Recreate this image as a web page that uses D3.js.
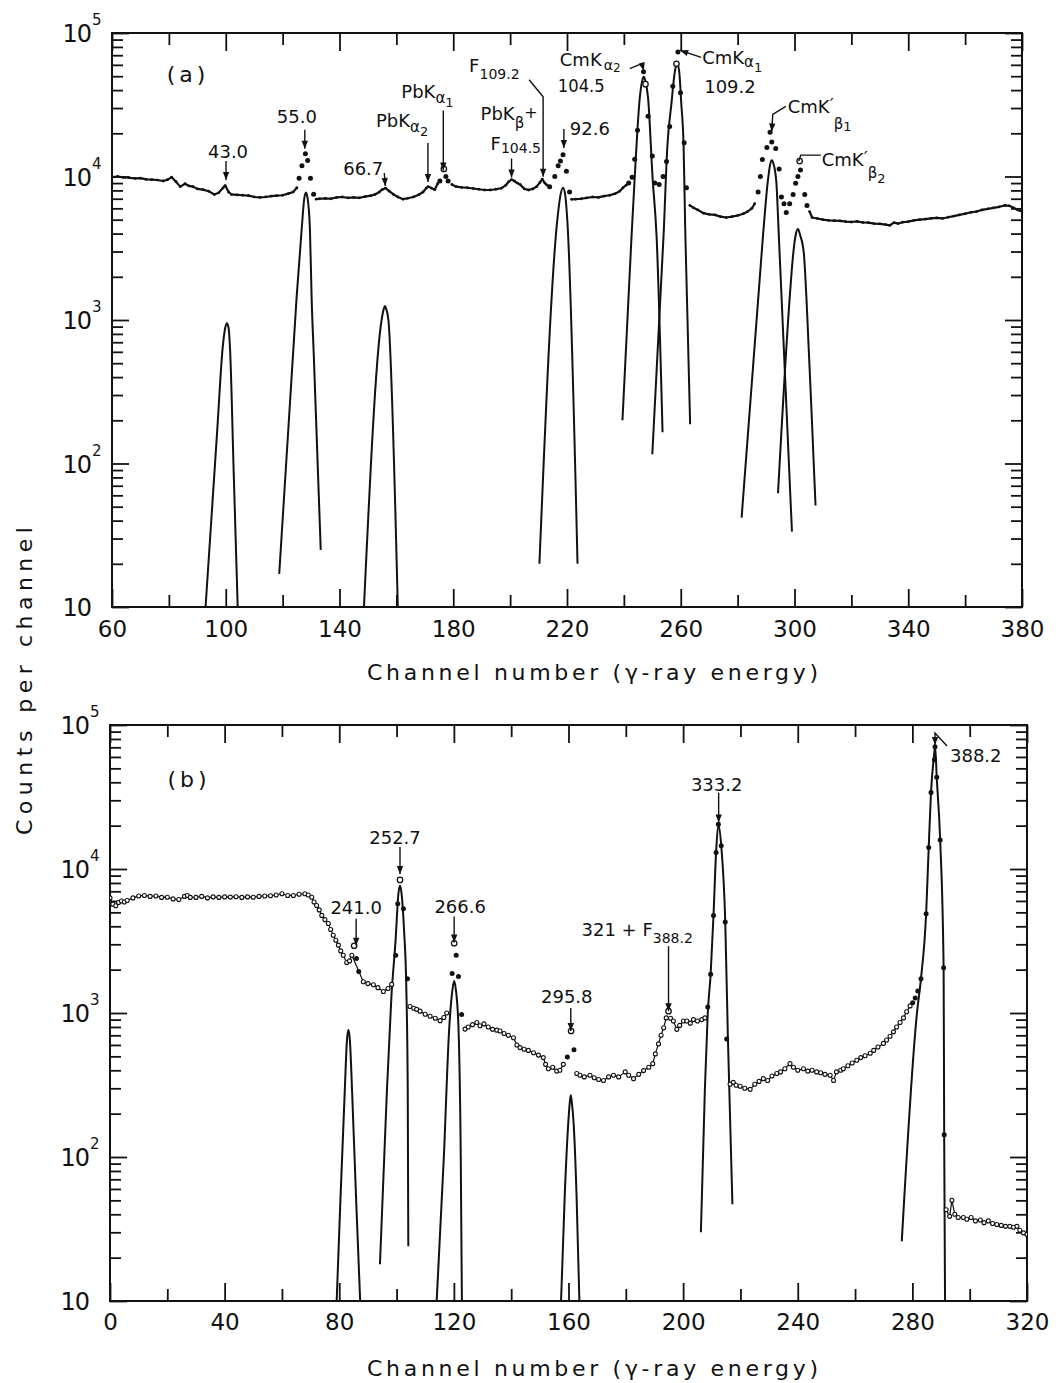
<!DOCTYPE html>
<html><head><meta charset="utf-8">
<script src="https://cdn.jsdelivr.net/npm/d3@7"></script>
<style>
body{margin:0;background:#fff}
text{font-family:"DejaVu Sans",Arial,sans-serif;fill:#111}
</style>
</head><body>
<script>
// ---------------- DATA ----------------
const xTicksA = [60,100,140,180,220,260,300,340,380];
const xMinorA = [80,120,160,200,240,280,320,360];
const xTicksB = [0,40,80,120,160,200,240,280,320];
const xMinorB = [20,60,100,140,180,220,260,300];
const yDecades = [10,100,1000,10000,100000];
const yExponents = ["","2","3","4","5"];
const yMinorMult = [2,3,4,5,6,7,8,9];

// panel (a): continuum (channel, counts per channel)
const bgA = [[60,9900],[62,10000],[64,9850],[66,9800],[68,9700],[70,9750],[72,9550],[74,9500],[76,9450],[78,9300],[79.5,9500],[81,9900],[82.5,9200],[84,8500],[85.7,8900],[87,8600],[88.5,8500],[90,8200],[92,8100],[94,7900],[96,7500],[97.5,7700],[99,8300],[99.8,8650],[101,7800],[102,7500],[104,7450],[106,7400],[108,7350],[110,7200],[112,7150],[114,7200],[116,7300],[118,7350],[120,7400],[122,7600],[123.7,7800],[125,8350],
[131.8,6950],[133,7000],[135,7050],[137,7000],[139,7150],[141,7200],[143,7100],[145,7150],[147,7100],[149,7250],[151,7350],[152.5,7500],[154,7800],[155,8100],[156.2,8300],[157.5,7900],[159,7500],[160.5,7200],[162.4,6950],[164,7050],[166,7200],[168,7500],[169.4,7800],[170.5,8300],[171.2,8500],[172.3,8300],[173.5,8100],[174.5,8900],
[179.5,8800],[181,8500],[183,8400],[185,8350],[187,8250],[189,8150],[191,8050],[193,8050],[195,8150],[197,8300],[198.5,8700],[199.5,9200],[200.5,9500],[201.5,9300],[202.5,9000],[203.5,8800],[205,8200],[206.5,8050],[208,8200],[209.3,8500],[210.5,9100],[211.3,9600],[212.2,9000],[213,8700],
[221.6,6930],[223,6950],[225,7000],[227,7100],[229,7200],[231,7150],[233,7300],[235,7400],[237,7600],[238.5,7900],[239.7,8350],[240.8,8700],
[263.2,6290],[264.5,6050],[266,5850],[268,5550],[270,5450],[272,5400],[274,5250],[276,5180],[278,5250],[280,5350],[282,5500],[283.5,5700],[285,6000],[286,6460],
[305.3,5700],[306.2,5180],[308,5100],[310,5000],[312,4950],[314,4920],[316,4900],[318,4850],[320,4820],[322,4870],[324,4780],[326,4770],[328,4700],[330,4680],[332,4620],[333.5,4570],[335,4770],[336.5,4700],[338,4800],[340,4850],[342,4950],[344,5000],[346,5050],[348,5100],[350,5150],[352,5100],[354,5200],[356,5300],[358,5400],[360,5500],[362,5630],[364,5700],[366,5850],[368,5950],[370,6050],[372,6150],[374,6290],[375.5,6250],[377,6050],[378.5,5850],[380,5700]];

// panel (a): peak data points
const peakDotsA = [[125.8,9740],[126.8,11860],[128,14400],[128.8,12950],[129.8,9740],[130.9,7520],
[175.3,9300],[177.4,10000],[178.2,9300],
[213.9,8480],[215.7,10000],[216.9,11860],[217.7,12800],[218.6,14150],[219.8,10900],[220.9,7810],
[241.7,9000],[242.9,9900],[243.8,13200],[244.8,21000],[246.9,53600],[248.5,26300],[250,13900],[250.9,9000],
[252.4,8800],[253.8,10000],[255,12700],[256.1,22300],[257.2,42500],[259,73700],[259.9,38300],[261.2,17200],[262,8350],
[287.2,7810],[288,10000],[288.7,13150],[290.3,15900],[291.4,20300],[292,17400],[293.4,15700],[294.6,11300],[295.4,7200],[296.3,6460],[297.1,5620],
[298.3,6460],[299.5,7500],[300.4,8980],[301.2,10000],[302.1,11100],[303.6,7500],[304.4,6290]];
const openDotsA = [[176.7,11300],[247.6,44000],[258.5,61000],[301.8,12800]];

// panel (a): fitted components
const fitA100 = [[92.9,10],[97,170],[98.9,635],[99.8,880],[100.4,950],[101,880],[101.5,635],[102.8,86],[104.2,10]];
const fitA128 = [[118.8,17],[124.9,1420],[126.7,4300],[127.6,7000],[128.2,7740],[128.8,7000],[129.6,4300],[130.2,1420],[131,540],[133.4,25]];
const fitA156 = [[148.6,10],[154.8,1000],[155.6,1200],[156,1250],[156.4,1200],[157.2,1000],[160.5,10]];
const fitA219 = [[210.3,20],[216.6,5000],[217.8,7600],[218.6,8350],[219.3,7600],[220.1,5000],[223.7,20]];
const fitA247 = [[239.5,200],[242.7,3840],[243.8,9750],[245.6,35500],[246.4,46000],[247,49600],[247.6,46000],[248.5,35500],[250.1,9750],[251.5,3840],[253.6,165]];
const fitA259 = [[250,116],[254,4050],[255.3,16300],[256.7,31900],[258,55000],[258.7,61000],[259.4,55000],[260.2,31900],[261,16300],[261.6,4050],[263.3,188]];
const fitA292 = [[281.4,42],[288.9,3830],[290.6,9200],[291.5,12300],[292,13000],[292.6,12300],[293.6,9200],[294.5,3830],[299.1,33.5]];
const fitA301 = [[294.2,62],[298.3,1420],[299.4,2700],[300.4,3900],[301.2,4300],[302,3900],[303.3,2900],[304.2,1420],[306.8,96],[307.4,51]];

// panel (b): continuum
const bgB = [[0,6300],[1,5700],[2,5550],[3,5850],[4,6000],[5,5900],[6,6050],[8,6300],[10,6500],[12,6550],[14,6450],[16,6500],[18,6350],[20,6370],[22,6200],[24,6140],[26,6450],[27,6550],[28,6350],[30,6350],[32,6450],[34,6300],[36,6400],[38,6350],[40,6400],[42,6380],[44,6420],[46,6350],[48,6400],[50,6370],[52,6450],[54,6500],[56,6520],[58,6600],[60,6730],[62,6550],[64,6550],[66,6680],[68,6730],[69.2,6600],[70.4,6370],[71.2,5900],[72.1,5580],[73,5200],[73.9,4760],[75,4450],[76.2,4180],[77,3800],[77.9,3470],[78.8,3200],[79.7,2960],[80.5,2700],[81.4,2520],[82.6,2240],[83.6,2300],[84.4,2520],
[88.4,1650],[90,1600],[91.9,1570],[93.5,1500],[95.4,1410],[97,1480],[98.3,1580],
[104.7,1110],[106,1080],[107,1060],[108.2,1030],[110,980],[111.7,950],[113.5,920],[115.2,885],[116.5,930],[117.5,1000],
[123.9,773],[125,800],[126.5,830],[128,860],[129.1,815],[130.5,840],[132,800],[133.5,770],[135,760],[136.1,750],[137.5,720],[139,700],[140.8,673],[142,600],[143.1,575],[144.5,560],[146,550],[147.8,530],[149.5,510],[151.2,490],[152,440],[153,410],[154.5,420],[155.9,395],[157,400],[158.2,440],
[162.9,380],[164,370],[165.5,360],[167.5,370],[169,355],[170.5,345],[172.2,340],[174,360],[175.7,370],[177.5,360],[179.8,390],[181,370],[182.7,350],[184.5,375],[186.2,398],[188,420],[189.4,445],[190.3,520],[191.4,610],[192.3,700],[193.2,790],[194.1,925],
[195.6,920],[196.6,880],[197.8,770],[198.8,820],[200.1,880],[201.3,880],[202.5,850],[203.6,900],[205,880],[206.5,900],[207.6,925],
[216.4,320],[217.5,330],[218.5,315],[219.9,310],[221.5,300],[223.4,295],[225,320],[226.5,335],[228,350],[229.5,340],[231,365],[232.7,380],[234,390],[235.5,410],[237.3,445],[238.5,420],[240,400],[242,410],[243.5,395],[245,400],[246.6,390],[248,385],[249.5,375],[251.3,370],[252.5,340],[253.5,390],[255,400],[255.9,410],[257.5,430],[259,450],[260.6,470],[262,490],[263.5,505],[265.3,525],[266.5,550],[268,580],[269.9,615],[271,650],[272.2,690],[273.4,740],[274.5,800],[275.7,860],[276.9,925],[278,1020],[279.2,1120],
[291.8,43],[293,38.7],[293.8,50],[294.8,40],[296,38],[297.8,38],[299,37],[300.5,38],[302,36],[303.7,36.5],[305,35],[306.5,36],[308,34.5],[309.5,34],[311,33.5],[312.5,33],[314,33],[315.3,32.5],[316.5,33],[317.5,31],[318.8,29.7],[320,29]];

// panel (b): peak data points
const peakDotsB = [[86,2390],[86.8,1940],
[99.7,2520],[100.4,5740],[102.4,5300],[103.8,1730],
[119.4,1880],[120.8,2520],[121.6,1790],[122.7,975],
[159.6,495],[161.9,555],
[208.6,1100],[209.6,1860],[210.6,4760],[211.5,13000],[212.3,20450],[213.3,14500],[214.7,4290],[215.2,660],
[280.1,1180],[281,1270],[281.9,1420],[283,1730],[284.8,4890],[285.7,14100],[286.5,34000],[287.7,57400],[287.9,70500],[288.5,43300],[289.7,15900],[290.9,2060],[291.1,143]];
const openDotsB = [[85.2,2930],[101.2,8400],[120.1,3050],[160.9,750],[194.9,1030]];

// panel (b): fitted components
const fitB83 = [[79.1,10],[80.4,50],[81.9,280],[82.7,650],[83.2,764],[83.7,650],[84.5,280],[85.9,50],[87.3,10]];
const fitB101 = [[94.2,18],[96.5,250],[98.2,1300],[99.7,3300],[100.6,6600],[101.2,7670],[101.8,6600],[102.6,3800],[103.4,1500],[103.9,300],[104.1,24]];
const fitB120 = [[114,10],[116.5,100],[118.4,800],[119.5,1450],[120.1,1665],[120.7,1450],[121.6,800],[122.4,100],[122.8,10]];
const fitB161 = [[157.4,10],[158.7,55],[159.9,170],[160.5,245],[160.8,268],[161.1,245],[161.8,170],[162.8,55],[163.8,10]];
const fitB212 = [[206.2,30],[207.6,300],[208.6,1000],[209.6,1860],[210.6,4760],[211.5,13000],[212.3,20450],[213.3,14500],[214.7,4290],[215.6,700],[217.2,47]];
const fitB288 = [[276.3,26],[281.6,1000],[283,1730],[284.8,4890],[285.7,14100],[286.5,34000],[287.5,60000],[287.95,70800],[288.5,43300],[289.7,15900],[290.9,2060],[291.1,143],[291.4,10]];

const fitsA = [fitA100,fitA128,fitA156,fitA219,fitA247,fitA259,fitA292,fitA301];
const fitsB = [fitB83,fitB101,fitB120,fitB161,fitB212,fitB288];

// ---------------- DRAW ----------------
const W = 1059, H = 1383;
const FONT = '"DejaVu Sans",Arial,sans-serif';
const svg = d3.select("body").append("svg").attr("width", W).attr("height", H);
svg.append("rect").attr("width", W).attr("height", H).attr("fill", "#fff");
const INK = "#111";

function richText(g, x, y, segs, anchor, len) {
  const t = g.append("text").attr("x", x).attr("y", y).attr("text-anchor", anchor || "start");
  if (len) t.attr("textLength", len).attr("lengthAdjust", "spacingAndGlyphs");
  let prev = 0;
  segs.forEach(s => {
    const ts = t.append("tspan").attr("font-size", s[1]).attr("dy", s[2] - prev).text(s[0]);
    if (s[3]) ts.attr("dx", s[3]);
    prev = s[2];
  });
  return t;
}

function arrowHead(g, x, y, angle) {
  g.append("path").attr("d", "M-3.2,-8 L3.2,-8 L0,0 Z")
    .attr("transform", `translate(${x},${y}) rotate(${angle})`)
    .attr("fill", INK);
}

function drawPanel(p) {
  const x = d3.scaleLinear().domain(p.xDomain).range([p.left, p.right]);
  const y = d3.scaleLog().domain([10, 1e5]).range([p.bottom, p.top]);
  const g = svg.append("g");
  const clipId = "clip" + p.name;
  svg.append("clipPath").attr("id", clipId).append("rect")
    .attr("x", p.left).attr("y", p.top).attr("width", p.right - p.left).attr("height", p.bottom - p.top);

  const styleAxis = sel => {
    sel.select(".domain").remove();
    sel.selectAll(".tick line").attr("stroke", INK).attr("stroke-width", 1.8);
  };
  const minorY = [];
  yDecades.slice(0, 4).forEach(d => yMinorMult.forEach(m => minorY.push(d * m)));

  g.append("g").attr("transform", `translate(0,${p.bottom})`)
    .call(d3.axisBottom(x).tickValues(p.xTicks).tickSize(-18).tickSizeOuter(0).tickPadding(p.tickPad).tickFormat(d3.format("d")))
    .call(styleAxis)
    .call(s => s.selectAll("text").attr("font-size", 23).attr("font-family", FONT).attr("fill", INK));
  g.append("g").attr("transform", `translate(0,${p.bottom})`)
    .call(d3.axisBottom(x).tickValues(p.xMinor).tickSize(-12).tickSizeOuter(0).tickFormat(""))
    .call(styleAxis);
  g.append("g").attr("transform", `translate(0,${p.top})`)
    .call(d3.axisTop(x).tickValues(p.xTicks).tickSize(-18).tickSizeOuter(0).tickFormat(""))
    .call(styleAxis);
  g.append("g").attr("transform", `translate(0,${p.top})`)
    .call(d3.axisTop(x).tickValues(p.xMinor).tickSize(-12).tickSizeOuter(0).tickFormat(""))
    .call(styleAxis);
  [[p.left, d3.axisLeft], [p.right, d3.axisRight]].forEach(([xp, ax]) => {
    g.append("g").attr("transform", `translate(${xp},0)`)
      .call(ax(y).tickValues(yDecades).tickSize(-17).tickSizeOuter(0).tickFormat(""))
      .call(styleAxis);
    g.append("g").attr("transform", `translate(${xp},0)`)
      .call(ax(y).tickValues(minorY).tickSize(-11).tickSizeOuter(0).tickFormat(""))
      .call(styleAxis);
  });
  g.append("rect").attr("x", p.left).attr("y", p.top).attr("width", p.right - p.left).attr("height", p.bottom - p.top)
    .attr("fill", "none").attr("stroke", INK).attr("stroke-width", 2);

  yDecades.forEach((d, i) => {
    const yy = y(d);
    g.append("text").attr("x", p.left - 21).attr("y", yy + 9).attr("text-anchor", "end")
      .attr("font-size", 24).attr("letter-spacing", -1).text("10");
    if (yExponents[i]) {
      g.append("text").attr("x", p.left - 20).attr("y", yy - 8).attr("font-size", 15).text(yExponents[i]);
    }
  });

  g.append("text").attr("x", 367).attr("y", p.titleBase).attr("font-size", 22)
    .attr("textLength", 451).attr("lengthAdjust", "spacing")
    .text("Channel number  (γ-ray energy)");
  g.append("text").attr("x", p.labelPos[0]).attr("y", p.labelPos[1]).attr("text-anchor", "middle")
    .attr("font-size", 22).attr("letter-spacing", 4).text(p.label);

  const plot = g.append("g").attr("clip-path", `url(#${clipId})`);
  const fitLine = d3.line().x(d => x(d[0])).y(d => y(d[1])).curve(d3.curveMonotoneX);
  p.fits.forEach(f => plot.append("path").attr("d", fitLine(f)).attr("fill", "none")
    .attr("stroke", INK).attr("stroke-width", 2).attr("stroke-linejoin", "round"));

  const bgSeq = [];
  p.bg.forEach((d, i) => {
    if (i > 0 && d[0] - p.bg[i - 1][0] > 4.5) bgSeq.push(null);
    bgSeq.push(d);
  });
  const bgLine = d3.line().defined(d => d !== null).x(d => x(d[0])).y(d => y(d[1]));
  plot.append("path").attr("d", bgLine(bgSeq)).attr("fill", "none").attr("stroke", INK)
    .attr("stroke-width", p.bgWidth).attr("stroke-linejoin", "round");
  plot.selectAll(null).data(p.bg).enter().append("circle")
    .attr("cx", d => x(d[0])).attr("cy", d => y(d[1])).attr("r", p.bgR)
    .attr("fill", p.bgOpen ? "#fff" : INK).attr("stroke", INK).attr("stroke-width", p.bgOpen ? 1.1 : 0);
  plot.selectAll(null).data(p.dots).enter().append("circle")
    .attr("cx", d => x(d[0])).attr("cy", d => y(d[1])).attr("r", 2.5).attr("fill", INK);
  plot.selectAll(null).data(p.open).enter().append("circle")
    .attr("cx", d => x(d[0])).attr("cy", d => y(d[1])).attr("r", 2.7).attr("fill", "#fff")
    .attr("stroke", INK).attr("stroke-width", 1.3);

  const ann = g.append("g");
  p.notes.forEach(n => {
    const tx = x(n.tip[0]), ty = y(n.tip[1]);
    if (n.leader) {
      const pts = n.leader.map(q => [tx + q[0], ty + q[1]]);
      ann.append("path").attr("d", d3.line()(pts)).attr("fill", "none").attr("stroke", INK).attr("stroke-width", 1.4);
      if (n.arrow !== false) {
        const a = pts[pts.length - 2], b = pts[pts.length - 1];
        const ang = Math.atan2(b[1] - a[1], b[0] - a[0]) * 180 / Math.PI - 90;
        arrowHead(ann, b[0], b[1], ang);
      }
    }
    n.texts.forEach(t => richText(ann, tx + t.dx, ty + t.dy, t.segs, t.anchor, t.len));
  });
}

const S = 18;
const notesA = [
  {tip:[100.1,9470], leader:[[0,-19],[0,0]], texts:[{dx:2,dy:-22,anchor:"middle",segs:[["43.0",S,0]]}]},
  {tip:[127.8,15600], leader:[[0,-19],[0,0]], texts:[{dx:-8,dy:-26,anchor:"middle",segs:[["55.0",S,0]]}]},
  {tip:[156.1,8580], leader:[[-1,-13],[0,0]], texts:[{dx:-2,dy:-11,anchor:"end",segs:[["66.7",S,0]]}]},
  {tip:[171.1,9140], leader:[[0,-39],[0,0]], texts:[{dx:-52,dy:-55,segs:[["PbK",S,0],["α",15,5],["2",13,9]]}]},
  {tip:[176.5,11000], leader:[[0,-60],[0,0]], texts:[{dx:-42,dy:-73,segs:[["PbK",S,0],["α",15,5],["1",13,9]]}]},
  {tip:[211.6,9950], leader:[[-14,-97],[0,-80],[0,0]], texts:[{dx:-74,dy:-105,segs:[["F",S,0],["109.2",14,7]]}]},
  {tip:[200.5,9840], leader:[[0,-19],[0,0]], texts:[
      {dx:-21,dy:-28,segs:[["F",S,0],["104.5",14,3]]},
      {dx:-31,dy:-58,segs:[["PbK",S,0],["β",15,8],["+",16,-2]]}]},
  {tip:[218.9,15800], leader:[[0,-19],[0,0]], texts:[{dx:6,dy:-13,segs:[["92.6",S,0]]}]},
  {tip:[247,54700], leader:[[-14,-2],[-2,-7],[0,0]], texts:[
      {dx:-84,dy:-5,segs:[["CmK",S,0],["α",14,4,2],["2",12,6]]},
      {dx:-86,dy:21,len:47,segs:[["104.5",S,0]]}]},
  {tip:[259.1,75600], leader:[[23,7],[2,0]], texts:[
      {dx:24,dy:14,segs:[["CmK",S,0],["α",15,3],["1",13,8]]},
      {dx:26,dy:43,segs:[["109.2",S,0]]}]},
  {tip:[292,20600], leader:[[14,-25],[1,-17],[0,0]], texts:[{dx:16,dy:-18,segs:[["CmK",S,0],["′",S,-2],["β",15,16],["1",13,18]]}]},
  {tip:[301.5,12800], leader:[[22,-6],[2,-6],[0,0]], arrow:false, texts:[{dx:23,dy:5,segs:[["CmK",S,0],["′",S,-2],["β",15,12],["2",13,17]]}]}
];
const notesB = [
  {tip:[85.9,2930], leader:[[0,-27],[0,0]], texts:[{dx:0,dy:-32,anchor:"middle",segs:[["241.0",S,0]]}]},
  {tip:[101.2,9240], leader:[[0,-27],[0,0]], texts:[{dx:-5,dy:-30,anchor:"middle",segs:[["252.7",S,0]]}]},
  {tip:[120.1,3090], leader:[[0,-26],[0,0]], texts:[{dx:6,dy:-29,anchor:"middle",segs:[["266.6",S,0]]}]},
  {tip:[160.8,750], leader:[[0,-23],[0,0]], texts:[{dx:-4,dy:-28,anchor:"middle",segs:[["295.8",S,0]]}]},
  {tip:[194.9,1030], leader:[[0,-65],[0,0]], texts:[{dx:-87,dy:-75,segs:[["321 + F",S,0],["388.2",14,7]]}]},
  {tip:[212.4,21000], leader:[[0,-30],[0,0]], texts:[{dx:-2,dy:-32,anchor:"middle",segs:[["333.2",S,0]]}]},
  {tip:[287.9,72700], leader:[[12,1],[0,-12],[0,0]], texts:[{dx:15,dy:17,segs:[["388.2",S,0]]}]}
];

drawPanel({name:"a", xDomain:[60,380], left:112, right:1022, top:33, bottom:607,
  xTicks:xTicksA, xMinor:xMinorA, tickPad:13.7, titleBase:680, label:"(a)", labelPos:[188,82],
  bg:bgA, dots:peakDotsA, open:openDotsA, fits:fitsA, bgWidth:2.2, bgR:1.4, bgOpen:false, notes:notesA});
drawPanel({name:"b", xDomain:[0,320], left:110, right:1027, top:725, bottom:1301,
  xTicks:xTicksB, xMinor:xMinorB, tickPad:12.7, titleBase:1376, label:"(b)", labelPos:[189,787],
  bg:bgB, dots:peakDotsB, open:openDotsB, fits:fitsB, bgWidth:1.2, bgR:2, bgOpen:true, notes:notesB});

svg.append("text").attr("transform", "translate(32,681) rotate(-90)").attr("text-anchor", "middle")
  .attr("font-size", 22).attr("textLength", 308).attr("lengthAdjust", "spacing").text("Counts per channel");
</script>
</body></html>
